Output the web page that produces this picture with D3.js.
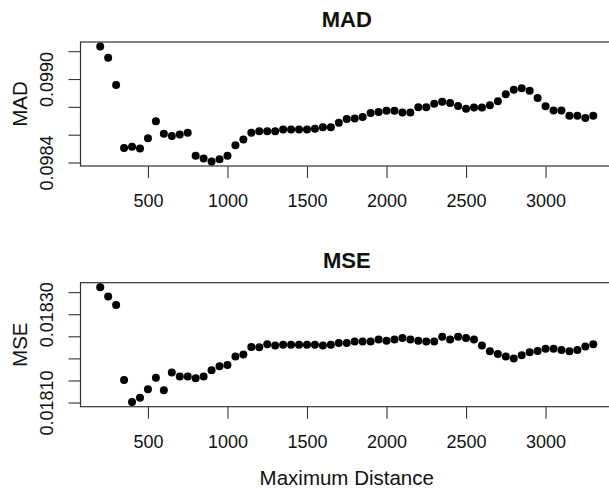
<!DOCTYPE html>
<html>
<head>
<meta charset="utf-8">
<script src="https://cdnjs.cloudflare.com/ajax/libs/d3/7.8.5/d3.min.js"></script>
<style>
  body { margin: 0; background: #fff; }
  text { font-family: "Liberation Sans", Arial, sans-serif; fill: #111; }
</style>
</head>
<body>
<svg id="chart" width="609" height="490"></svg>
<script>
// maximum distance (x) for every point
var distances = [200, 250, 300, 350, 400, 450, 500, 550, 600, 650, 700, 750, 800, 850, 900, 950,
                 1000, 1050, 1100, 1150, 1200, 1250, 1300, 1350, 1400, 1450, 1500, 1550, 1600, 1650,
                 1700, 1750, 1800, 1850, 1900, 1950, 2000, 2050, 2100, 2150, 2200, 2250, 2300, 2350,
                 2400, 2450, 2500, 2550, 2600, 2650, 2700, 2750, 2800, 2850, 2900, 2950, 3000, 3050,
                 3100, 3150, 3200, 3250, 3300];

var madValues = [0.099233, 0.099153, 0.098957, 0.098504, 0.098514, 0.098500, 0.098575, 0.098696,
                 0.098607, 0.098590, 0.098602, 0.098614, 0.098448, 0.098429, 0.098408, 0.098424,
                 0.098448, 0.098524, 0.098566, 0.098614, 0.098625, 0.098625, 0.098625, 0.098637,
                 0.098637, 0.098637, 0.098637, 0.098642, 0.098653, 0.098653, 0.098685, 0.098713,
                 0.098717, 0.098727, 0.098756, 0.098763, 0.098772, 0.098772, 0.098760, 0.098760,
                 0.098798, 0.098798, 0.098822, 0.098836, 0.098827, 0.098807, 0.098786, 0.098795,
                 0.098795, 0.098812, 0.098841, 0.098891, 0.098923, 0.098933, 0.098916, 0.098864,
                 0.098805, 0.098774, 0.098774, 0.098736, 0.098736, 0.098720, 0.098736];

var mseValues = [0.018361, 0.018340, 0.018321, 0.018151, 0.018101, 0.018111, 0.018130, 0.018156,
                 0.018128, 0.018168, 0.018159, 0.018159, 0.018155, 0.018159, 0.018173, 0.018182,
                 0.018185, 0.018204, 0.018209, 0.018226, 0.018225, 0.018232, 0.018229, 0.018231,
                 0.018231, 0.018231, 0.018231, 0.018231, 0.018229, 0.018231, 0.018235, 0.018235,
                 0.018238, 0.018238, 0.018238, 0.018243, 0.018240, 0.018243, 0.018246, 0.018243,
                 0.018240, 0.018238, 0.018238, 0.018249, 0.018243, 0.018249, 0.018246, 0.018243,
                 0.018229, 0.018216, 0.018210, 0.018204, 0.018200, 0.018207, 0.018214, 0.018217,
                 0.018222, 0.018222, 0.018219, 0.018216, 0.018219, 0.018227, 0.018232];

var xTicks = [500, 1000, 1500, 2000, 2500, 3000];
var madTicks = [0.0984, 0.0986, 0.0988, 0.0990, 0.0992];
var madTickLabels = ["0.0984", "", "", "0.0990", ""];
var mseTicks = [0.01810, 0.01815, 0.01820, 0.01825, 0.01830, 0.01835];
var mseTickLabels = ["0.01810", "", "", "", "0.01830", ""];

var box = {left: 80.5, right: 613, height: 124};

var panels = [
  {title: "MAD", ylab: "MAD", values: madValues, ticks: madTicks, labels: madTickLabels, top: 42},
  {title: "MSE", ylab: "MSE", values: mseValues, ticks: mseTicks, labels: mseTickLabels, top: 282.7}
];

// R style range: data extent padded by 4% each side
function padded(ext)
{
  var d = (ext[1] - ext[0]) * 0.04;
  return [ext[0] - d, ext[1] + d];
}

var svg = d3.select("#chart");
svg.append("rect").attr("width", 609).attr("height", 490).attr("fill", "#fff");

var xScale = d3.scaleLinear()
               .domain(padded(d3.extent(distances)))
               .range([box.left, box.right]);

panels.forEach(function(p, idx)
{
  var bottom = p.top + box.height;
  var yScale = d3.scaleLinear()
                 .domain(padded(d3.extent(p.values)))
                 .range([bottom, p.top]);

  var g = svg.append("g");

  // title
  g.append("text")
   .attr("x", (box.left + box.right) / 2)
   .attr("y", p.top - 14.7)
   .attr("text-anchor", "middle")
   .style("font-size", "22px")
   .style("font-weight", "bold")
   .text(p.title);

  // x axis
  var xAxis = d3.axisBottom(xScale)
                .tickValues(xTicks)
                .tickSize(12)
                .tickSizeOuter(0)
                .tickFormat(d3.format("d"));
  var gx = g.append("g")
            .attr("transform", "translate(0," + bottom + ")")
            .call(xAxis);
  gx.select(".domain").remove();
  gx.selectAll(".tick line").attr("stroke", "#333").attr("stroke-width", 1.1);
  gx.selectAll(".tick text")
    .attr("y", 41)
    .attr("dy", 0)
    .attr("fill", "#111")
    .style("font-size", "18px")
    .style("font-family", "'Liberation Sans', Arial, sans-serif");

  // y axis
  var yAxis = d3.axisLeft(yScale)
                .tickValues(p.ticks)
                .tickSize(12)
                .tickSizeOuter(0)
                .tickFormat(function(d, i) { return p.labels[i]; });
  var gy = g.append("g")
            .attr("transform", "translate(" + box.left + ",0)")
            .call(yAxis);
  gy.select(".domain").remove();
  gy.selectAll(".tick line").attr("stroke", "#333").attr("stroke-width", 1.1);
  gy.selectAll(".tick text")
    .attr("transform", "rotate(-90)")
    .attr("x", 0)
    .attr("y", -27.5)
    .attr("dy", 0)
    .attr("text-anchor", "middle")
    .attr("fill", "#111")
    .style("font-size", "18px")
    .style("font-family", "'Liberation Sans', Arial, sans-serif");

  // y label
  g.append("text")
   .attr("transform", "translate(27," + (p.top + box.height / 2) + ") rotate(-90)")
   .attr("text-anchor", "middle")
   .style("font-size", "20.5px")
   .text(p.ylab);

  // plot box
  g.append("rect")
   .attr("x", box.left)
   .attr("y", p.top)
   .attr("width", box.right - box.left)
   .attr("height", box.height)
   .attr("fill", "none")
   .attr("stroke", "#333")
   .attr("stroke-width", 1.2);

  // points
  g.selectAll(".pt")
   .data(p.values)
   .enter().append("circle")
   .attr("class", "pt")
   .attr("cx", function(d, i) { return xScale(distances[i]); })
   .attr("cy", function(d) { return yScale(d); })
   .attr("r", 4)
   .attr("fill", "#000");
});

// x label under the lower panel
svg.append("text")
   .attr("x", (box.left + box.right) / 2)
   .attr("y", 485)
   .attr("text-anchor", "middle")
   .style("font-size", "20.5px")
   .text("Maximum Distance");
</script>
</body>
</html>
